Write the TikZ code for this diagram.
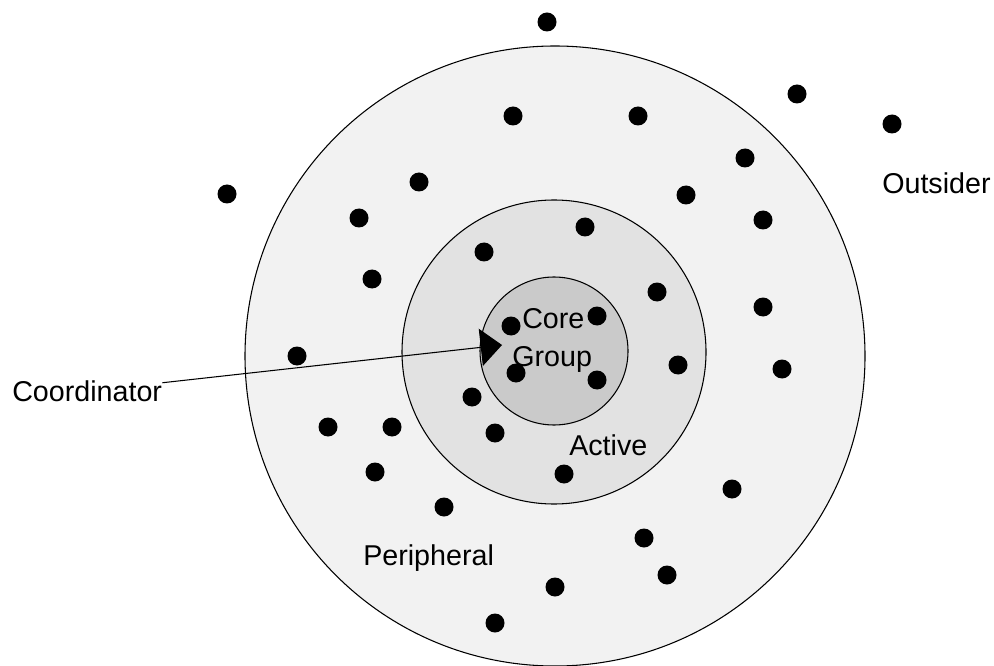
\documentclass[tikz,border=0pt]{standalone}
\usepackage{fontspec}
\setmainfont{Liberation Sans}
\usetikzlibrary{arrows.meta}

\tikzset{
  ring/.style={draw, line width=0.8pt},
  member/.style={fill=black},
  tag/.style={inner sep=0pt, anchor=base west, font=\fontsize{21.5}{24}\selectfont},
  pointer/.style={line width=0.8pt, -{Triangle[length=16pt, width=28pt]}}
}

\begin{document}
\begin{tikzpicture}[x=0.75pt, y=-0.75pt]
    % page frame 994x666
    \useasboundingbox (0, 0) rectangle (994, 666);
    % peripheral ring
    \draw [ring, fill={rgb,255:red,242;green,242;blue,242}] (555, 356) circle (310);
    % active ring
    \draw [ring, fill={rgb,255:red,226;green,226;blue,226}] (554, 352) circle (152);
    % core group ring
    \draw [ring, fill={rgb,255:red,202;green,202;blue,202}] (554, 351) circle (74);
    % members
    \foreach \px/\py in {547/22, 797/94, 892/124, 227/194,
        513/116, 638/116, 745/158, 419/182, 686/195, 359/218, 763/220,
        372/279, 763/307, 297/356, 782/369, 328/427, 392/427, 375/472,
        732/489, 444/507, 644/538, 667/575, 555/587, 495/623,
        585/227, 484/252, 657/292, 678/365, 472/397, 495/433, 564/474,
        597/316, 511/326, 516/373, 597/380}
        \fill [member] (\px, \py) circle (9.5);
    % labels
    \node [tag] (outsider) at (882, 194) {Outsider};
    \node [tag] (peripheral) at (363, 565) {Peripheral};
    \node [tag] (active) at (569, 455) {Active};
    \node [tag] (core) at (522, 328) {Core};
    \node [tag] (group) at (512, 366) {Group};
    \node [tag] (coordinator) at (12, 401) {Coordinator};
    % pointer to the core group
    \coordinate (coordout) at ([yshift=6pt]coordinator.east);
    \coordinate (coretip) at (502, 345);
    \draw [pointer] (coordout) -- (coretip);
\end{tikzpicture}
\end{document}
